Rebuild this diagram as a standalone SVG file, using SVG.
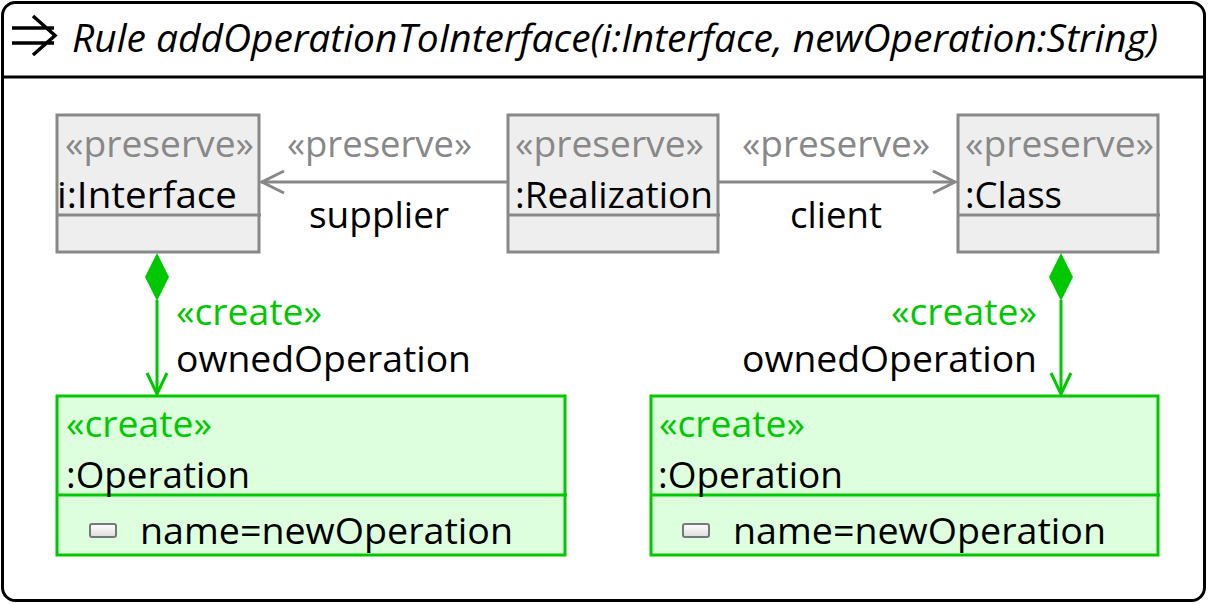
<svg xmlns="http://www.w3.org/2000/svg" width="1208" height="604" viewBox="0 0 1208 604">
<defs>
<style>
text{font-family:"Open Sans","Noto Sans","Liberation Sans",sans-serif;font-size:37px;fill:#000}
.g{fill:#888888}
.c{fill:#00c800}
.title{font-style:italic;font-size:38px}
.pres{fill:#eeeeee;stroke:#888888;stroke-width:3}
.pl{stroke:#888888;stroke-width:3;fill:none}
.crt{fill:#ddffdd;stroke:#00c800;stroke-width:3}
.cl{stroke:#00c800;stroke-width:3;fill:none}
</style>
<linearGradient id="ig" x1="0" y1="0" x2="0" y2="1"><stop offset="0" stop-color="#ffffff"/><stop offset="1" stop-color="#dddddd"/></linearGradient>
</defs>
<rect x="0" y="0" width="1208" height="604" fill="#ffffff"/>
<g id="frame">
<rect x="2.5" y="2.5" width="1202" height="598" rx="13" fill="#ffffff" stroke="#000" stroke-width="3"/>
<line x1="2" y1="77" x2="1205" y2="77" stroke="#000" stroke-width="3"/>
<path d="M12 28H54M12 43H54M33 16L55 35.5L33 55" fill="none" stroke="#000" stroke-width="3.5"/>
<text class="title" x="72" y="52" textLength="1086" lengthAdjust="spacingAndGlyphs">Rule addOperationToInterface(i:Interface, newOperation:String)</text>
</g>
<g id="connectors">
<g id="e-supplier">
<line class="pl" x1="507" y1="182" x2="261" y2="182"/>
<path class="pl" d="M284 171L262 182L284 193"/>
<text class="g" x="287" y="157" textLength="185" lengthAdjust="spacingAndGlyphs">«preserve»</text>
<text x="309" y="228" textLength="140" lengthAdjust="spacingAndGlyphs">supplier</text>
</g>
<g id="e-client">
<line class="pl" x1="718" y1="182" x2="955" y2="182"/>
<path class="pl" d="M933 171L955 182L933 193"/>
<text class="g" x="742" y="157" textLength="188" lengthAdjust="spacingAndGlyphs">«preserve»</text>
<text x="790" y="228" textLength="92" lengthAdjust="spacingAndGlyphs">client</text>
</g>
<g id="e-owned1">
<path d="M157 253L169 277L157 301L145 277Z" fill="#00c800"/>
<line class="cl" x1="157" y1="300" x2="157" y2="394"/>
<path class="cl" d="M147 373L157 394L167 373"/>
<text class="c" x="176" y="325" textLength="146" lengthAdjust="spacingAndGlyphs">«create»</text>
<text x="176" y="372" textLength="295" lengthAdjust="spacingAndGlyphs">ownedOperation</text>
</g>
<g id="e-owned2">
<path d="M1061 253L1073 277L1061 301L1049 277Z" fill="#00c800"/>
<line class="cl" x1="1061" y1="300" x2="1061" y2="394"/>
<path class="cl" d="M1051 373L1061 394L1071 373"/>
<text class="c" x="891" y="325" textLength="146" lengthAdjust="spacingAndGlyphs">«create»</text>
<text x="742" y="372" textLength="295" lengthAdjust="spacingAndGlyphs">ownedOperation</text>
</g>
</g>
<g id="n-interface">
<rect class="pres" x="57" y="115" width="202" height="137"/>
<line class="pl" x1="57" y1="215" x2="261" y2="215"/>
<text class="g" x="65" y="157" textLength="189" lengthAdjust="spacingAndGlyphs">«preserve»</text>
<text x="57" y="208" textLength="180" lengthAdjust="spacingAndGlyphs">i:Interface</text>
</g>
<g id="n-realization">
<rect class="pres" x="508" y="115" width="210" height="137"/>
<line class="pl" x1="508" y1="215" x2="720" y2="215"/>
<text class="g" x="515" y="157" textLength="189" lengthAdjust="spacingAndGlyphs">«preserve»</text>
<text x="515" y="208" textLength="198" lengthAdjust="spacingAndGlyphs">:Realization</text>
</g>
<g id="n-class">
<rect class="pres" x="958" y="115" width="200" height="137"/>
<line class="pl" x1="958" y1="215" x2="1160" y2="215"/>
<text class="g" x="965" y="157" textLength="189" lengthAdjust="spacingAndGlyphs">«preserve»</text>
<text x="965" y="208" textLength="97" lengthAdjust="spacingAndGlyphs">:Class</text>
</g>
<g id="n-op1">
<rect class="crt" x="57" y="396" width="508" height="159"/>
<line class="cl" x1="57" y1="495" x2="567" y2="495"/>
<text class="c" x="66" y="437" textLength="146" lengthAdjust="spacingAndGlyphs">«create»</text>
<text x="66" y="488" textLength="184" lengthAdjust="spacingAndGlyphs">:Operation</text>
<rect x="90" y="524" width="26" height="13" rx="2" fill="url(#ig)" stroke="#777" stroke-width="2"/>
<text x="140" y="544" textLength="373" lengthAdjust="spacingAndGlyphs">name=newOperation</text>
</g>
<g id="n-op2">
<rect class="crt" x="651" y="396" width="507" height="159"/>
<line class="cl" x1="651" y1="495" x2="1160" y2="495"/>
<text class="c" x="659" y="437" textLength="146" lengthAdjust="spacingAndGlyphs">«create»</text>
<text x="658" y="488" textLength="185" lengthAdjust="spacingAndGlyphs">:Operation</text>
<rect x="683" y="524" width="26" height="13" rx="2" fill="url(#ig)" stroke="#777" stroke-width="2"/>
<text x="733" y="544" textLength="373" lengthAdjust="spacingAndGlyphs">name=newOperation</text>
</g>
</svg>
